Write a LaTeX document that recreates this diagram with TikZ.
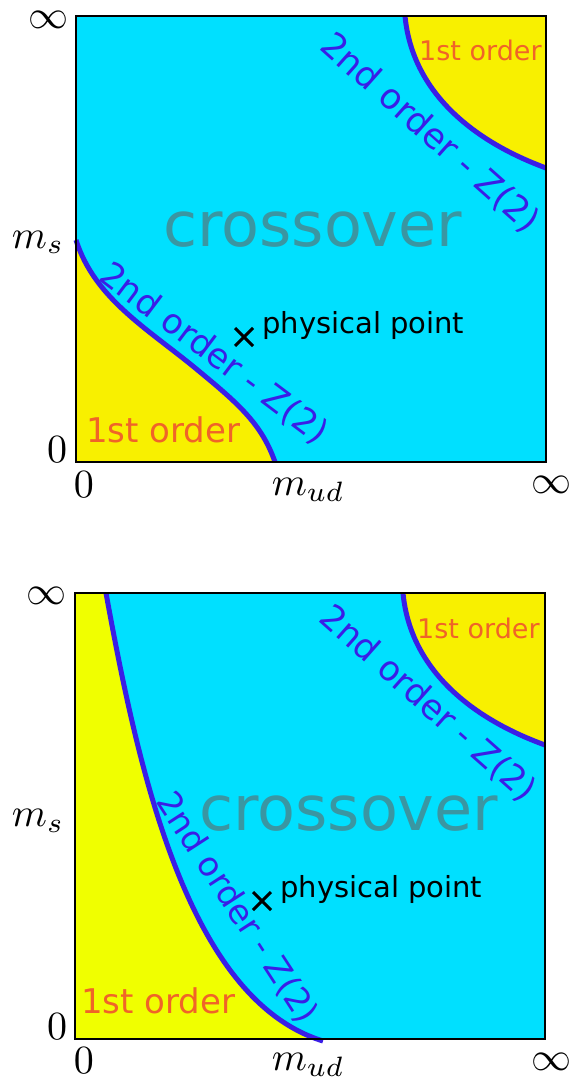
\documentclass[tikz,border=0pt]{standalone}
\usepackage{fontspec}
\newfontfamily\dejavu{DejaVu Sans}
\definecolor{cyanbg}{RGB}{0,224,255}
\definecolor{yelA}{RGB}{248,240,0}
\definecolor{yelB}{RGB}{240,255,0}
\definecolor{lineblue}{RGB}{58,30,230}
\definecolor{orangetxt}{RGB}{240,100,40}
\definecolor{crosstxt}{RGB}{58,150,162}
\begin{document}
\begin{tikzpicture}[x=1pt,y=-1pt,
  frame/.style={draw=black,line width=1.6pt},
  crit/.style={draw=lineblue,line width=5pt},
  mathlbl/.style={scale=4,inner sep=0pt},
  bigtxt/.style={inner sep=0pt,text=crosstxt,font=\dejavu\fontsize{62}{70}\selectfont},
  firsttxt/.style={inner sep=0pt,text=orangetxt,font=\dejavu\fontsize{#1}{#1}\selectfont},
  secondtxt/.style={inner sep=0pt,text=lineblue,font=\dejavu\fontsize{#1}{36}\selectfont},
  pptxt/.style={inner sep=0pt,text=black,font=\dejavu\fontsize{29}{32}\selectfont},
  crossmark/.style={draw=black,line width=3pt}]
\useasboundingbox (0,0) rectangle (573,1083);

% ===== top panel =====
\fill[cyanbg] (76,16) rectangle (546,462);
\fill[yelA] (76,240) .. controls (95,300) and (150,330) .. (200,372) .. controls (240,405) and (262,425) .. (275,462) -- (76,462) -- cycle;
\fill[yelA] (405,16) .. controls (412,90) and (470,140) .. (546,168) -- (546,16) -- cycle;
\draw[crit] (76,240) .. controls (95,300) and (150,330) .. (200,372) .. controls (240,405) and (262,425) .. (275,462);
\draw[crit] (405,16) .. controls (412,90) and (470,140) .. (546,168);
\draw[frame] (76,16) rectangle (546,462);

\node[bigtxt,anchor=base west] (co1) at (163,247) {crossover};
\node[firsttxt=34,anchor=base west] (fo1a) at (86,442) {1st order};
\node[firsttxt=27,anchor=base west] (fo1b) at (419,61) {1st order};
\node[secondtxt=34.5,rotate=-37] (so1a) at (214,354) {2nd order - Z(2)};
\node[secondtxt=35,rotate=-41.7] (so1b) at (430,133) {2nd order - Z(2)};
\coordinate (pp1) at (244,337);
\draw[crossmark] ([shift={(-9,-9)}]pp1) -- ([shift={(9,9)}]pp1);
\draw[crossmark] ([shift={(-9,9)}]pp1) -- ([shift={(9,-9)}]pp1);
\node[pptxt,anchor=base west] (ppl1) at (262,333) {physical point};

\node[mathlbl] (inf1a) at (48,20) {$\infty$};
\node[mathlbl,anchor=base east] (ms1) at (65,248) {$m_s$};
\node[mathlbl,anchor=base east] (zy1) at (68,462) {$0$};
\node[mathlbl,anchor=base west] (zx1) at (73,497) {$0$};
\node[mathlbl,anchor=base west] (mud1) at (271,495) {$m_{ud}$};
\node[mathlbl] (inf1b) at (551,485) {$\infty$};

% ===== bottom panel =====
\fill[cyanbg] (75,593) rectangle (545,1039);
\fill[yelB] (106,593) .. controls (140,780) and (190,1000) .. (321,1039) -- (75,1039) -- (75,593) -- cycle;
\fill[yelA] (403,593) .. controls (410,667) and (468,717) .. (545,745) -- (545,593) -- cycle;
\draw[crit] (106,593) .. controls (140,780) and (190,1000) .. (323,1041);
\draw[crit] (403,593) .. controls (410,667) and (468,717) .. (545,745);
\draw[frame] (75,593) rectangle (545,1039);

\node[bigtxt,anchor=base west] (co2) at (199,830) {crossover};
\node[firsttxt=34,anchor=base west] (fo2a) at (81,1013) {1st order};
\node[firsttxt=27,anchor=base west] (fo2b) at (417,638) {1st order};
\node[secondtxt=33.5,rotate=-57] (so2a) at (237,908) {2nd order - Z(2)};
\node[secondtxt=34.5,rotate=-41.5] (so2b) at (428,704) {2nd order - Z(2)};
\coordinate (pp2) at (262,901);
\draw[crossmark] ([shift={(-9,-9)}]pp2) -- ([shift={(9,9)}]pp2);
\draw[crossmark] ([shift={(-9,9)}]pp2) -- ([shift={(9,-9)}]pp2);
\node[pptxt,anchor=base west] (ppl2) at (280,897) {physical point};

\node[mathlbl] (inf2a) at (47,596) {$\infty$};
\node[mathlbl,anchor=base east] (ms2) at (65,826) {$m_s$};
\node[mathlbl,anchor=base east] (zy2) at (68,1039) {$0$};
\node[mathlbl,anchor=base west] (zx2) at (73,1073) {$0$};
\node[mathlbl,anchor=base west] (mud2) at (271,1070) {$m_{ud}$};
\node[mathlbl] (inf2b) at (551,1062) {$\infty$};
\end{tikzpicture}
\end{document}
